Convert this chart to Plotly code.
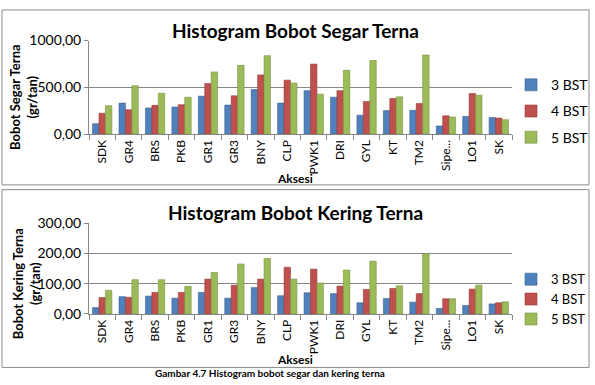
import plotly.graph_objects as go

categories = ["SDK", "GR4", "BRS", "PKB", "GR1", "GR3", "BNY", "CLP", "PWK1", "DRI",
              "GYL", "KT", "TM2", "Sipe...", "LO1", "SK"]
series_names = ["3 BST", "4 BST", "5 BST"]

segar_3bst = [112, 332, 280, 290, 406, 311, 476, 332, 465, 395, 203, 252, 255, 88, 190, 179]
segar_4bst = [224, 262, 308, 315, 542, 410, 633, 577, 749, 465, 350, 381, 329, 196, 435, 172]
segar_5bst = [305, 518, 437, 395, 665, 735, 838, 546, 427, 682, 787, 399, 845, 183, 417, 155]

kering_3bst = [21, 57, 59, 52, 71, 52, 87, 60, 70, 67, 37, 51, 39, 18, 28, 33]
kering_4bst = [54, 55, 71, 71, 115, 95, 115, 154, 148, 92, 81, 84, 67, 50, 82, 37]
kering_5bst = [78, 113, 113, 91, 137, 165, 183, 115, 102, 145, 174, 93, 199, 50, 95, 40]

colors = ["#4F81BD", "#C0504D", "#9BBB59"]
edge = ["#3A6391", "#963C3A", "#76923F"]

W, H = 595, 385
FONT = "Lato, 'Open Sans', sans-serif"

def px(x):
    return x / W

def py(y):
    return 1 - y / H

fig = go.Figure()

for i, (name, vals) in enumerate(zip(series_names, [segar_3bst, segar_4bst, segar_5bst])):
    fig.add_trace(go.Bar(x=categories, y=vals, name=name, xaxis="x", yaxis="y",
                         marker=dict(color=colors[i], line=dict(color=edge[i], width=0.6)),
                         legend="legend", legendgroup="a" + str(i)))
for i, (name, vals) in enumerate(zip(series_names, [kering_3bst, kering_4bst, kering_5bst])):
    fig.add_trace(go.Bar(x=categories, y=vals, name=name, xaxis="x2", yaxis="y2",
                         marker=dict(color=colors[i], line=dict(color=edge[i], width=0.6)),
                         legend="legend2", legendgroup="b"))

axis_common_x = dict(type="category", showgrid=False, showline=True, linecolor="#868686",
                     ticks="outside", tickson="boundaries", ticklen=5, tickcolor="#868686",
                     tickangle=-90, tickfont=dict(family=FONT, size=12, color="#000"))
axis_common_y = dict(showgrid=True, gridcolor="#868686", gridwidth=1, showline=True,
                     linecolor="#868686", ticks="outside", ticklen=4, tickcolor="#868686",
                     tickformat=".2f", zeroline=False,
                     tickfont=dict(family=FONT, size=14, color="#000"))

fig.update_layout(
    width=W, height=H,
    margin=dict(l=0, r=0, t=0, b=0),
    paper_bgcolor="white", plot_bgcolor="white",
    separators=", ",
    barmode="group", bargap=0.27, bargroupgap=0,
    showlegend=True,
    xaxis=dict(domain=[px(89), px(512)], anchor="y", **axis_common_x),
    yaxis=dict(domain=[py(131), py(33)], anchor="x", range=[0, 1000], dtick=500, **axis_common_y),
    xaxis2=dict(domain=[px(89), px(512)], anchor="y2", **axis_common_x),
    yaxis2=dict(domain=[py(319), py(224)], anchor="x2", range=[0, 300], dtick=100, **axis_common_y),
    legend=dict(x=px(511), y=py(63), xanchor="left", yanchor="top",
                font=dict(family=FONT, size=14, color="#000"), tracegroupgap=5,
                itemwidth=30, bgcolor="rgba(0,0,0,0)"),
    legend2=dict(x=px(511), y=py(267), xanchor="left", yanchor="top",
                 font=dict(family=FONT, size=13, color="#000"), tracegroupgap=0,
                 itemwidth=30, bgcolor="rgba(0,0,0,0)"),
)

shapes = [
    dict(type="rect", xref="paper", yref="paper", x0=px(2), x1=px(589), y0=py(184), y1=py(1),
         line=dict(color="#8C8C8C", width=1)),
    dict(type="rect", xref="paper", yref="paper", x0=px(2), x1=px(589), y0=py(375), y1=py(189),
         line=dict(color="#8C8C8C", width=1)),
]
fig.update_layout(shapes=shapes)

ann = [
    dict(text="<b>Histogram Bobot Segar Terna</b>", x=px(295), y=py(22), font=dict(size=19)),
    dict(text="<b>Histogram Bobot Kering Terna</b>", x=px(295), y=py(213), font=dict(size=19)),
    dict(text="<b>Aksesi</b>", x=px(295), y=py(177), font=dict(size=12)),
    dict(text="<b>Aksesi</b>", x=px(295), y=py(367), font=dict(size=12)),
    dict(text="<b>Bobot Segar Terna<br>(gr/tan)</b>", x=px(24), y=py(93), textangle=-90,
         font=dict(size=13)),
    dict(text="<b>Bobot Kering Terna<br>(gr/tan)</b>", x=px(26), y=py(288), textangle=-90,
         font=dict(size=13)),
    dict(text="<b>Gambar 4.7 Histogram bobot segar dan kering terna</b>", x=px(270), y=py(380.5),
         font=dict(size=10)),
]
for a in ann:
    a.setdefault("yanchor", "middle")
    a["font"] = dict(family=FONT, color="#000", **a["font"])
    fig.add_annotation(xref="paper", yref="paper", xanchor="center", showarrow=False, **a)

fig.write_html("out.html")
